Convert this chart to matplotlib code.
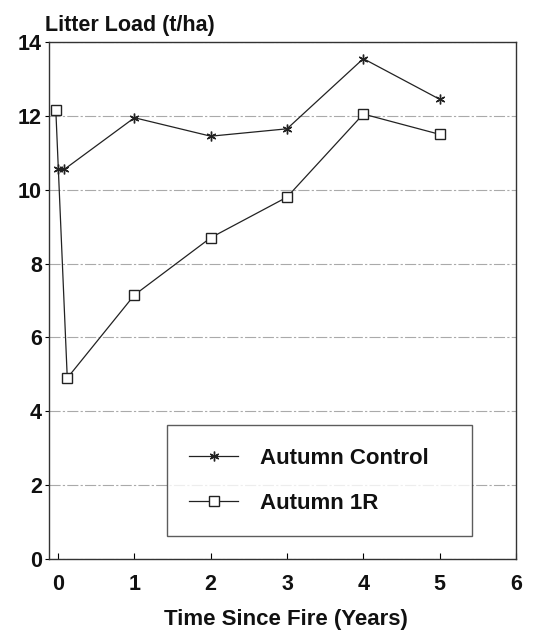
import matplotlib
matplotlib.use("Agg")
import matplotlib.pyplot as plt

plt.rcParams['font.family'] = ['Liberation Sans', 'DejaVu Sans']

control_x = [0.0, 0.08, 1, 2, 3, 4, 5]
control_y = [10.55, 10.55, 11.95, 11.45, 11.65, 13.55, 12.45]
r1_x = [-0.03, 0.12, 1, 2, 3, 4, 5]
r1_y = [12.15, 4.9, 7.15, 8.7, 9.8, 12.05, 11.5]
xticks = [0, 1, 2, 3, 4, 5, 6]
yticks = [0, 2, 4, 6, 8, 10, 12, 14]

fig = plt.figure(figsize=(5.38, 6.32), dpi=100)
ax = fig.add_axes([0.091, 0.1155, 0.868, 0.818])

ax.plot(control_x, control_y, color='#222222', lw=0.9, marker=(6, 2, 0),
        ms=7, mew=1.0, label='Autumn Control')
ax.plot(r1_x, r1_y, color='#222222', lw=0.9, marker='s', ms=7,
        mfc='white', mec='#222222', mew=1.0, label='Autumn 1R')

ax.set_xlim(-0.12, 6.0)
ax.set_ylim(0, 14)
ax.set_xticks(xticks)
ax.set_yticks(yticks)
ax.tick_params(axis='x', direction='in', length=4, labelsize=15.5, pad=11)
ax.tick_params(axis='y', direction='out', length=3, labelsize=15.5, pad=2)
for lab in ax.get_xticklabels() + ax.get_yticklabels():
    lab.set_fontweight('bold')
    lab.set_color('#111111')

ax.yaxis.grid(True, color='#aaaaaa', lw=0.8, ls=(0, (10, 2, 2, 2)))
ax.set_axisbelow(True)
for s in ax.spines.values():
    s.set_color('#333333')
    s.set_linewidth(1.0)

fig.text(0.532, 0.019, 'Time Since Fire (Years)', fontsize=16, fontweight='bold',
         color='#111111', ha='center', va='center')
fig.text(0.084, 0.951, 'Litter Load (t/ha)', fontsize=15.5, fontweight='bold',
         color='#111111', ha='left', va='baseline')

leg = ax.legend(loc='lower left', bbox_to_anchor=(0.253, 0.044, 0.653, 0.22),
                mode='expand', fontsize=16, frameon=True, fancybox=False,
                edgecolor='#333333', borderpad=1.0, labelspacing=1.1,
                handlelength=2.2, handletextpad=1.0, borderaxespad=0)
leg.get_frame().set_linewidth(1.0)
for t in leg.get_texts():
    t.set_fontweight('bold')
    t.set_color('#111111')

fig.savefig('out.png', dpi=100)
